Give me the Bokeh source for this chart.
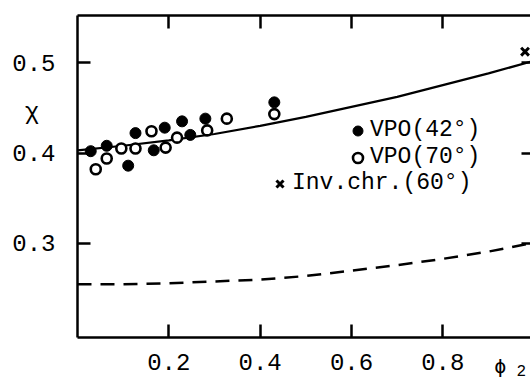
from bokeh.plotting import figure
from bokeh.models import Range1d, LinearAxis, FixedTicker, Legend, LegendItem, Label
from bokeh.embed import file_html
from bokeh.resources import INLINE

# ---- data ----
phi_vpo42 = [0.029, 0.064, 0.111, 0.127, 0.167, 0.191, 0.229, 0.247, 0.280, 0.431]
chi_vpo42 = [0.402, 0.408, 0.386, 0.422, 0.403, 0.428, 0.435, 0.420, 0.438, 0.456]

phi_vpo70 = [0.040, 0.064, 0.096, 0.127, 0.162, 0.193, 0.218, 0.284, 0.327, 0.431]
chi_vpo70 = [0.382, 0.394, 0.405, 0.405, 0.424, 0.406, 0.417, 0.425, 0.438, 0.443]

phi_inv = [0.980]
chi_inv = [0.512]

phi_curve = [0.0, 0.1, 0.2, 0.3, 0.4, 0.5, 0.6, 0.7, 0.8, 0.9, 1.0]
chi_solid = [0.403, 0.408, 0.414, 0.421, 0.430, 0.440, 0.451, 0.462, 0.475, 0.488, 0.502]
chi_dashed = [0.255, 0.255, 0.256, 0.258, 0.260, 0.264, 0.270, 0.276, 0.283, 0.291, 0.301]

x_ticks = [0.2, 0.4, 0.6, 0.8]
y_ticks = [0.3, 0.4, 0.5]

legend_labels = ["VPO(42°)", "VPO(70°)", "Inv.chr.(60°)"]

# axis box (data units)
X0, X1 = 0.0, 1.0
Y0, Y1 = 0.196, 0.552

FONT = "Liberation Mono"
FS = "24px"

# the frame covers the whole canvas; axes are drawn at fixed positions inside it
p = figure(width=530, height=381, output_backend="svg", toolbar_location=None,
           x_range=Range1d(-0.1686, 0.992), y_range=Range1d(0.1474, 0.5686),
           x_axis_type=None, y_axis_type=None,
           min_border_left=0, min_border_right=0, min_border_top=0, min_border_bottom=0)
p.outline_line_color = None
p.background_fill_color = "white"
p.border_fill_color = "white"


def make_axis(ticks, loc, bounds, labels=True):
    ax = LinearAxis(ticker=FixedTicker(ticks=ticks), fixed_location=loc, bounds=bounds)
    ax.axis_line_width = 2.5
    ax.axis_line_color = "black"
    ax.major_tick_in = 13
    ax.major_tick_out = 0
    ax.major_tick_line_width = 2.5
    ax.major_tick_line_color = "black"
    ax.minor_tick_line_color = None
    ax.major_label_text_font = FONT
    ax.major_label_text_color = "black"
    if labels:
        ax.major_label_text_font_size = FS
    else:
        ax.major_label_text_font_size = "0px"
        ax.major_label_text_color = None
        ax.major_label_standoff = 0
    return ax


bottom = make_axis(x_ticks, Y0, (X0, X1))
bottom.major_label_standoff = 16
left = make_axis(y_ticks, X0, (Y0, Y1))
left.major_label_standoff = 22
top = make_axis(x_ticks, Y1, (X0, X1), labels=False)
right = make_axis(y_ticks, X1, (Y0, Y1), labels=False)
right.axis_line_color = None

p.add_layout(bottom, "below")
p.add_layout(left, "left")
p.add_layout(top, "above")
p.add_layout(right, "right")

# curves
p.line(phi_curve, chi_solid, line_color="black", line_width=2.2)
p.line(phi_curve, chi_dashed, line_color="black", line_width=2.5, line_dash="14 9")

# points
r42 = p.scatter(phi_vpo42, chi_vpo42, marker="circle", size=11,
                fill_color="black", line_color="black")
r70 = p.scatter(phi_vpo70, chi_vpo70, marker="circle", size=10,
                fill_color="white", line_color="black", line_width=2.6)
rinv = p.scatter(phi_inv, chi_inv, marker="x", size=11,
                 line_color="black", line_width=3)

# legends (one per row so rows can be right-aligned as in the original)
for r, lab, loc in [(r42, legend_labels[0], (345, 238)),
                    (r70, legend_labels[1], (345, 211)),
                    (rinv, legend_labels[2], (267, 185))]:
    lg = Legend(items=[LegendItem(label=lab, renderers=[r])], location=loc,
                padding=0, margin=0, spacing=0, border_line_color=None,
                background_fill_alpha=0, glyph_width=25, glyph_height=25,
                label_height=25, label_standoff=-6,
                label_text_font=FONT, label_text_font_size="23px",
                label_text_color="black")
    p.add_layout(lg)

# axis titles
p.add_layout(Label(x=-0.100, y=0.445, text="χ",
                   text_font=FONT, text_font_size=FS, text_align="center",
                   text_baseline="middle", text_color="black"))
p.add_layout(Label(x=0.926, y=0.164, text="ϕ",
                   text_font="DejaVu Sans Mono", text_font_size="20px", text_align="center",
                   text_baseline="middle", text_color="black"))
p.add_layout(Label(x=0.972, y=0.160, text="2",
                   text_font=FONT, text_font_size="16px", text_align="center",
                   text_baseline="middle", text_color="black"))

open("out.html", "w").write(file_html(p, INLINE))
